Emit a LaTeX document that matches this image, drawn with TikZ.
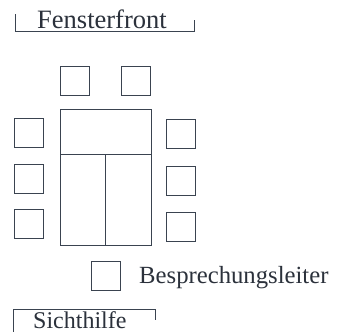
\documentclass[tikz,border=0pt]{standalone}
\usepackage{fontspec}
\setmainfont{Liberation Serif}
\definecolor{linec}{HTML}{3A4350}
\definecolor{textc}{HTML}{2B313B}
\begin{document}
\begin{tikzpicture}[x=1pt,y=-1pt,
  seat/.style={draw=linec, line width=0.9pt, minimum size=29pt, inner sep=0pt},
  tablebox/.style={draw=linec, line width=0.9pt, minimum width=91pt, minimum height=136pt, inner sep=0pt},
  lbl/.style={text=textc, inner sep=0pt, anchor=base west},
  edge/.style={draw=linec, line width=0.9pt}]
\useasboundingbox (0,0) rectangle (343,332);
% Fensterfront
\node[lbl, font=\fontsize{26.5}{30}\selectfont] (ff) at (37,28) {Fensterfront};
\draw[edge] (15,14) -- (15,31) -- (194,31) -- (194,20);
% top seats
\node[seat] (t1) at (74.5,80.5) {};
\node[seat] (t2) at (136,80.5) {};
% table
\node[tablebox] (tab) at (105.5,177) {};
\coordinate (hl) at (60,154);
\coordinate (hr) at (151,154);
\coordinate (vt) at (105,154);
\coordinate (vb) at (105,245);
\draw[edge] (hl) -- (hr);
\draw[edge] (vt) -- (vb);
% left seats
\node[seat] (l1) at (28.5,133) {};
\node[seat] (l2) at (28.5,178.5) {};
\node[seat] (l3) at (28.5,224) {};
% right seats
\node[seat] (r1) at (181,134) {};
\node[seat] (r2) at (181,180.5) {};
\node[seat] (r3) at (181,226.5) {};
% leader
\node[seat] (bl) at (105.5,276) {};
\node[lbl, font=\fontsize{24.7}{30}\selectfont] (blt) at (139,283) {Besprechungsleiter};
% Sichthilfe
\node[lbl, font=\fontsize{24}{30}\selectfont] (sh) at (33,328) {Sichthilfe};
\draw[edge] (13,332) -- (13,309) -- (155,309) -- (155,320);
\end{tikzpicture}
\end{document}
